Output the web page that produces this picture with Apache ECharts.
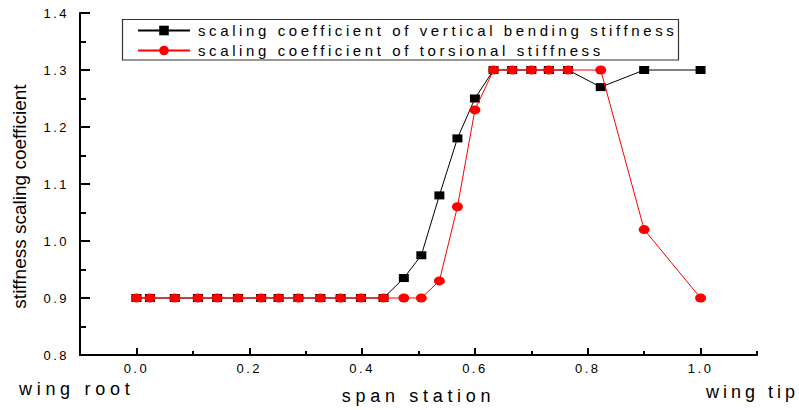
<!DOCTYPE html>
<html>
<head>
<meta charset="utf-8">
<script src="https://cdn.jsdelivr.net/npm/echarts@6/dist/echarts.min.js"></script>
<style>
  html, body { margin: 0; padding: 0; background: #fff; }
  #chart { width: 799px; height: 410px; }
  /* spaced-out lettering, keyed on the font size of each text group */
  #chart svg text[style*="13px"] { letter-spacing: 2.5px; }
  #chart svg text[style*="15px"] { letter-spacing: 3.6px; }
  #chart svg text[style*="18px"] { letter-spacing: 4.7px; }
  #chart svg text[style*="18px"][text-anchor="end"] { letter-spacing: 4px; }
</style>
</head>
<body>
<div id="chart"></div>
<script>
// span stations along the wing (0 = root, 1 = tip)
const spanStations = [0, 0.024, 0.068, 0.109, 0.143, 0.18, 0.221, 0.252, 0.287, 0.326, 0.362, 0.398, 0.438,
  0.474, 0.505, 0.537, 0.569, 0.6, 0.633, 0.666, 0.7, 0.731, 0.765, 0.823, 0.9, 1.0];
// scaling coefficient of vertical bending stiffness
const bendingCoeff = [0.9, 0.9, 0.9, 0.9, 0.9, 0.9, 0.9, 0.9, 0.9, 0.9, 0.9, 0.9, 0.9,
  0.935, 0.975, 1.08, 1.18, 1.25, 1.3, 1.3, 1.3, 1.3, 1.3, 1.27, 1.3, 1.3];
// scaling coefficient of torsional stiffness
const torsionCoeff = [0.9, 0.9, 0.9, 0.9, 0.9, 0.9, 0.9, 0.9, 0.9, 0.9, 0.9, 0.9, 0.9,
  0.9, 0.9, 0.93, 1.06, 1.23, 1.3, 1.3, 1.3, 1.3, 1.3, 1.3, 1.02, 0.9];

const seriesNames = ['scaling coefficient of vertical bending stiffness', 'scaling coefficient of torsional stiffness'];

// axis ticks and labels
const xTickValues = [0, 0.2, 0.4, 0.6, 0.8, 1.0];
const xMinorTickValues = [-0.1, 0.1, 0.3, 0.5, 0.7, 0.9, 1.1];
const yTickValues = [0.8, 0.9, 1.0, 1.1, 1.2, 1.3, 1.4];

const FONT = 'Liberation Sans, Arial, sans-serif';

const chart = echarts.init(document.getElementById('chart'), null, { renderer: 'svg' });

const pairs = arr => spanStations.map((x, i) => [x, arr[i]]);
const ellipse = 'path://M0 5A5 5 0 1 1 10 5A5 5 0 1 1 0 5Z';

chart.setOption({
  animation: false,
  backgroundColor: '#fff',
  grid: { left: 80, top: 13, right: 42, bottom: 53, containLabel: false },
  legend: {
    orient: 'vertical',
    left: 132,
    top: 18,
    itemWidth: 52,
    itemHeight: 12,
    itemGap: 5,
    selectedMode: false,
    textStyle: { fontFamily: FONT, fontSize: 15, color: '#000', lineHeight: 15, padding: [0, 0, 0, 3] },
    data: seriesNames
  },
  xAxis: [{
    type: 'value',
    min: -0.1,
    max: 1.1,
    name: 'span station',
    nameLocation: 'middle',
    nameGap: 32,
    nameTextStyle: { fontFamily: FONT, fontSize: 18, color: '#000' },
    axisLine: { show: true, onZero: false, lineStyle: { color: '#000', width: 2 } },
    axisTick: { show: true, inside: true, length: 7, customValues: xTickValues, lineStyle: { color: '#000', width: 2 } },
    axisLabel: { show: true, customValues: xTickValues, margin: 7, fontFamily: FONT, fontSize: 13, color: '#000',
      formatter: v => v.toFixed(1) },
    splitLine: { show: false }
  }, {
    type: 'value',
    min: -0.1,
    max: 1.1,
    position: 'bottom',
    axisLine: { show: false },
    axisTick: { show: true, inside: true, length: 4, customValues: xMinorTickValues, lineStyle: { color: '#000', width: 2 } },
    axisLabel: { show: false },
    splitLine: { show: false }
  }],
  yAxis: {
    type: 'value',
    min: 0.8,
    max: 1.4,
    interval: 0.1,
    axisLine: { show: true, onZero: false, lineStyle: { color: '#000', width: 2 } },
    axisTick: { show: true, inside: true, length: 10, lineStyle: { color: '#000', width: 2 } },
    minorTick: { show: true, splitNumber: 2, length: 6, lineStyle: { color: '#000', width: 2 } },
    axisLabel: { show: true, customValues: yTickValues, margin: 11, fontFamily: FONT, fontSize: 13, color: '#000',
      formatter: v => v.toFixed(1) },
    splitLine: { show: false }
  },
  graphic: [
    { type: 'rect', shape: { x: 122.5, y: 19.5, width: 556, height: 40.5 },
      style: { fill: '#fff', stroke: '#333', lineWidth: 1.2 }, z: 0 },
    { type: 'text', x: 19.5, y: 196.5, rotation: Math.PI / 2,
      style: { text: 'stiffness scaling coefficient', fontFamily: FONT, fontSize: 19, fill: '#000',
        align: 'center', verticalAlign: 'middle' } },
    { type: 'text', x: 19, y: 388.8,
      style: { text: 'wing root', fontFamily: FONT, fontSize: 18, fill: '#000', align: 'left', verticalAlign: 'middle' } },
    { type: 'text', x: 799, y: 391.5,
      style: { text: 'wing tip', fontFamily: FONT, fontSize: 18, fill: '#000', align: 'right', verticalAlign: 'middle' } }
  ],
  series: [{
    name: seriesNames[0],
    type: 'line',
    data: pairs(bendingCoeff),
    symbol: 'rect',
    symbolSize: [10, 8],
    itemStyle: { color: '#000' },
    lineStyle: { color: '#000', width: 1 },
    emphasis: { disabled: true },
    z: 2
  }, {
    name: seriesNames[1],
    type: 'line',
    data: pairs(torsionCoeff),
    symbol: ellipse,
    symbolSize: [11, 9],
    itemStyle: { color: '#ff0000' },
    lineStyle: { color: '#ff0000', width: 1 },
    emphasis: { disabled: true },
    z: 3
  }]
});
</script>
</body>
</html>
